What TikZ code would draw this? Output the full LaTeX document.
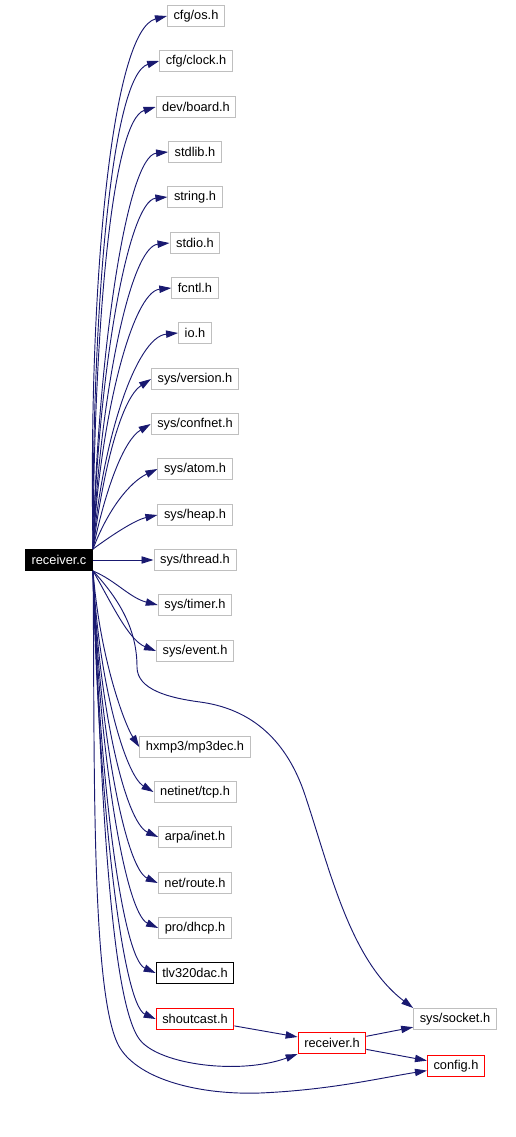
\documentclass[tikz,border=0pt]{standalone}
\usepackage{fontspec}
\setmainfont{Liberation Sans}
\usetikzlibrary{arrows.meta}
\definecolor{edgeblue}{HTML}{191970}
\definecolor{boxgray}{HTML}{BFBFBF}

\begin{document}
\begin{tikzpicture}[
  x=0.75pt,y=-0.75pt,
  header/.style={draw=boxgray,line width=0.75pt,fill=white,minimum height=15.75pt,inner xsep=4.6pt,inner ysep=0pt,font=\fontsize{9.6}{11}\selectfont},
  redheader/.style={header,draw=red},
  plainheader/.style={header,draw=black},
  srcfile/.style={header,draw=black,fill=black,text=white},
  dep/.style={draw=edgeblue,line width=0.7pt,-{Triangle[length=9pt,width=5.5pt]}}
]
  \useasboundingbox (0,0) rectangle (515,1137);

  \node[srcfile] (rc) at (59,560) {receiver.c};

  \node[header] (os) at (196,16) {cfg/os.h};
  \node[header] (clock) at (196,61) {cfg/clock.h};
  \node[header] (board) at (196,107) {dev/board.h};
  \node[header] (stdlib) at (195,152) {stdlib.h};
  \node[header] (string) at (195,197) {string.h};
  \node[header] (stdio) at (195,243) {stdio.h};
  \node[header] (fcntl) at (195,288) {fcntl.h};
  \node[header] (io) at (195,333) {io.h};
  \node[header] (version) at (195,379) {sys/version.h};
  \node[header] (confnet) at (195,424) {sys/confnet.h};
  \node[header] (atom) at (195,469) {sys/atom.h};
  \node[header] (heap) at (195,515) {sys/heap.h};
  \node[header] (thread) at (195,560) {sys/thread.h};
  \node[header] (timer) at (195,605) {sys/timer.h};
  \node[header] (event) at (195,651) {sys/event.h};
  \node[header] (mp3dec) at (195,747) {hxmp3/mp3dec.h};
  \node[header] (tcp) at (195,792) {netinet/tcp.h};
  \node[header] (inet) at (195,837) {arpa/inet.h};
  \node[header] (route) at (195,883) {net/route.h};
  \node[header] (dhcp) at (195,928) {pro/dhcp.h};
  \node[plainheader] (tlv) at (195,973) {tlv320dac.h};
  \node[redheader] (shoutcast) at (195,1019) {shoutcast.h};
  \node[redheader] (recvh) at (332,1043) {receiver.h};
  \node[header] (socket) at (455,1019) {sys/socket.h};
  \node[redheader] (config) at (456,1066) {config.h};

  \draw[dep] (rc.north east) .. controls (88,283) and (112,30) .. (os.west);
  \draw[dep] (rc.north east) .. controls (92,305) and (112,75) .. (clock.west);
  \draw[dep] (rc.north east) .. controls (94,328) and (112,120) .. (board.west);
  \draw[dep] (rc.north east) .. controls (98,351) and (127,156) .. (stdlib.west);
  \draw[dep] (rc.north east) .. controls (98,373) and (128,201) .. (string.west);
  \draw[dep] (rc.north east) .. controls (100,396) and (130,247) .. (stdio.west);
  \draw[dep] (rc.north east) .. controls (100,419) and (132,292) .. (fcntl.west);
  \draw[dep] (rc.north east) .. controls (102,441) and (136,337) .. (io.west);
  \draw[dep] (rc.north east) .. controls (104,464) and (122,398) .. (version.west);
  \draw[dep] (rc.north east) .. controls (106,487) and (124,440) .. (confnet.west);
  \draw[dep] (rc.north east) .. controls (108,509) and (130,482) .. (atom.west);
  \draw[dep] (rc.north east) .. controls (112,535) and (135,520) .. (heap.west);
  \draw[dep] (rc) -- (thread);
  \draw[dep] (rc.south east) .. controls (115,580) and (130,598) .. (timer.west);
  \draw[dep] (rc.south east) .. controls (110,600) and (128,640) .. (event.west);
  \draw[dep] (rc.south east) .. controls (100,660) and (125,725) .. (mp3dec.west);
  \draw[dep] (rc.south east) .. controls (98,680) and (125,775) .. (tcp.west);
  \draw[dep] (rc.south east) .. controls (98,705) and (125,822) .. (inet.west);
  \draw[dep] (rc.south east) .. controls (98,727) and (125,868) .. (route.west);
  \draw[dep] (rc.south east) .. controls (98,750) and (125,913) .. (dhcp.west);
  \draw[dep] (rc.south east) .. controls (98,772) and (122,958) .. (tlv.west);
  \draw[dep] (rc.south east) .. controls (98,795) and (122,1004) .. (shoutcast.west);
  \draw[dep] (rc.south east) .. controls (120,600) and (137,630) .. (137,667)
    .. controls (137,690) and (170,698) .. (200,702)
    .. controls (260,710) and (290,750) .. (305,795)
    .. controls (330,870) and (350,960) .. (socket.north west);
  \draw[dep] (rc.south east) .. controls (100,750) and (108,1000) .. (140,1040)
    .. controls (160,1065) and (240,1075) .. (recvh.south west);
  \draw[dep] (rc.south east) .. controls (95,750) and (90,1000) .. (120,1048)
    .. controls (140,1080) and (200,1095) .. (260,1093)
    .. controls (330,1090) and (380,1078) .. (config);
  \draw[dep] (shoutcast) -- (recvh);
  \draw[dep] (recvh) -- (socket);
  \draw[dep] (recvh) -- (config);
\end{tikzpicture}
\end{document}
